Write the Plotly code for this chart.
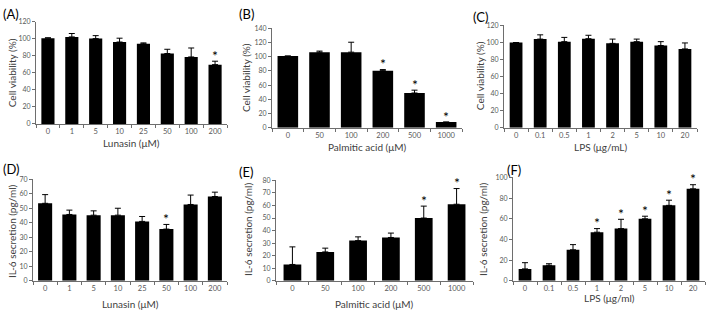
import plotly.graph_objects as go

W, H = 708, 313

# ---------------- data ----------------
a_cats = ["0", "1", "5", "10", "25", "50", "100", "200"]
a_vals = [100.5, 102, 100, 96, 94, 82.5, 78.5, 69.5]
a_err = [0.5, 4, 3.5, 4.5, 1, 5, 10.5, 4]
a_sig = [0, 0, 0, 0, 0, 0, 0, 1]

b_cats = ["0", "50", "100", "200", "500", "1000"]
b_vals = [101, 106.5, 106.5, 80.5, 49, 8]
b_err = [0, 1.5, 14, 1.5, 4, 0]
b_sig = [0, 0, 0, 1, 1, 1]

c_cats = ["0", "0.1", "0.5", "1", "2", "5", "10", "20"]
c_vals = [100, 104, 101, 104.5, 99, 101, 96.5, 92.5]
c_err = [0, 5, 5, 4, 5, 3, 4.5, 7]
c_sig = [0, 0, 0, 0, 0, 0, 0, 0]

d_cats = ["0", "1", "5", "10", "25", "50", "100", "200"]
d_vals = [53.5, 45.8, 45.3, 45.3, 41, 35.7, 52.7, 58.2]
d_err = [6, 3, 3, 4.8, 3.4, 3.2, 6.5, 3]
d_sig = [0, 0, 0, 0, 0, 1, 0, 0]

e_cats = ["0", "50", "100", "200", "500", "1000"]
e_vals = [13, 23, 32, 34.5, 50, 61]
e_err = [14, 3, 3, 3.5, 9.5, 12.5]
e_sig = [0, 0, 0, 0, 1, 1]

f_cats = ["0", "0.1", "0.5", "1", "2", "5", "10", "20"]
f_vals = [11.5, 15, 30, 47, 50.5, 60, 73, 89]
f_err = [6, 1.5, 5, 3.5, 9, 2.5, 5, 4]
f_sig = [0, 0, 0, 1, 1, 1, 1, 1]

# ---------------- layout spec ----------------
panels = [
    dict(lab="(A)", cats=a_cats, vals=a_vals, err=a_err, sig=a_sig, xp=(36, 227), yp=(17, 122), ymax=120, dt=20, bw=0.55,
         yt="Cell viability (%)", xt="Lunasin (μM)", xty=142, ytx=12, yty=70, lxy=(1, 9)),
    dict(lab="(B)", cats=b_cats, vals=b_vals, err=b_err, sig=b_sig, xp=(272, 462), yp=(24, 126), ymax=140, dt=20, bw=0.65,
         yt="Cell viability (%)", xt="Palmitic acid (μM)", xty=146, ytx=246, yty=75, lxy=(237, 9)),
    dict(lab="(C)", cats=c_cats, vals=c_vals, err=c_err, sig=c_sig, xp=(504, 697), yp=(21, 126), ymax=120, dt=20, bw=0.53,
         yt="Cell viability (%)", xt="LPS (μg/mL)", xty=146, ytx=480, yty=73, lxy=(471, 12)),
    dict(lab="(D)", cats=d_cats, vals=d_vals, err=d_err, sig=d_sig, xp=(33, 227), yp=(179, 283), ymax=70, dt=10, bw=0.58,
         yt="IL-6 secretion (pg/ml)", xt="Lunasin (μM)", xty=307, ytx=12, yty=232, lxy=(1, 168)),
    dict(lab="(E)", cats=e_cats, vals=e_vals, err=e_err, sig=e_sig, xp=(276, 473), yp=(180, 283), ymax=80, dt=10, bw=0.54,
         yt="IL-6 secretion (pg/ml)", xt="Palmitic acid (μM)", xty=307, ytx=248, yty=230, lxy=(237, 171)),
    dict(lab="(F)", cats=f_cats, vals=f_vals, err=f_err, sig=f_sig, xp=(513, 705), yp=(177, 283), ymax=100, dt=20, bw=0.53,
         yt="IL-6 secretion (pg/ml)", xt="LPS (μg/ml)", xty=301, ytx=483, yty=230, lxy=(505, 169)),
]

FONT = "Lato"
AXC = "#6e6e6e"
TICKC = "#595959"
TITLEC = "#404040"

fig = go.Figure()
annotations = []
layout = dict(
    width=W, height=H, margin=dict(l=0, r=0, t=0, b=0),
    paper_bgcolor="white", plot_bgcolor="white", showlegend=False,
    font=dict(family=FONT, color=TICKC),
)

for i, p in enumerate(panels, start=1):
    xa = "x" if i == 1 else f"x{i}"
    ya = "y" if i == 1 else f"y{i}"
    xk = "xaxis" if i == 1 else f"xaxis{i}"
    yk = "yaxis" if i == 1 else f"yaxis{i}"
    fig.add_trace(go.Bar(
        x=p["cats"], y=p["vals"], xaxis=xa, yaxis=ya,
        marker=dict(color="black", line=dict(width=0)), width=p["bw"],
        error_y=dict(type="data", array=p["err"], arrayminus=[0] * len(p["err"]), symmetric=False,
                     color="black", thickness=1, width=3),
    ))
    x0, x1 = p["xp"][0] / W, p["xp"][1] / W
    y0, y1 = 1 - p["yp"][1] / H, 1 - p["yp"][0] / H
    layout[xk] = dict(
        domain=[x0, x1], anchor=ya, type="category", range=[-0.5, len(p["cats"]) - 0.5],
        showline=True, linecolor=AXC, linewidth=1, ticks="outside", tickson="boundaries",
        ticklen=3, tickcolor=AXC, showgrid=False, zeroline=False,
        tickfont=dict(family=FONT, size=7.5, color=TICKC),
    )
    layout[yk] = dict(
        domain=[y0, y1], anchor=xa, range=[0, p["ymax"]], dtick=p["dt"], tick0=0,
        showline=True, linecolor=AXC, linewidth=1, ticks="outside", ticklen=3, tickcolor=AXC,
        showgrid=False, zeroline=False, tickfont=dict(family=FONT, size=7, color=TICKC),
    )
    annotations.append(dict(text=p["lab"], xref="paper", yref="paper", x=p["lxy"][0] / W, y=1 - p["lxy"][1] / H,
                            xanchor="left", yanchor="middle", showarrow=False,
                            font=dict(family=FONT, size=13, color="black")))
    annotations.append(dict(text=p["xt"], xref="paper", yref="paper", x=(x0 + x1) / 2, y=1 - p["xty"] / H,
                            xanchor="center", yanchor="middle", showarrow=False,
                            font=dict(family=FONT, size=10, color=TITLEC)))
    annotations.append(dict(text=p["yt"], xref="paper", yref="paper", x=p["ytx"] / W, y=1 - p["yty"] / H,
                            xanchor="center", yanchor="middle", showarrow=False, textangle=-90,
                            font=dict(family=FONT, size=10, color=TITLEC)))
    # significance stars (x given as category index)
    for j, (v, e, s) in enumerate(zip(p["vals"], p["err"], p["sig"])):
        if s:
            annotations.append(dict(text="*", xref=xa, yref=ya, x=j, y=v + e, xanchor="center", yanchor="middle",
                                    yshift=6, showarrow=False, font=dict(family=FONT, size=14, color="black")))

layout["annotations"] = annotations
fig.update_layout(**layout)
fig.write_html("out.html")
